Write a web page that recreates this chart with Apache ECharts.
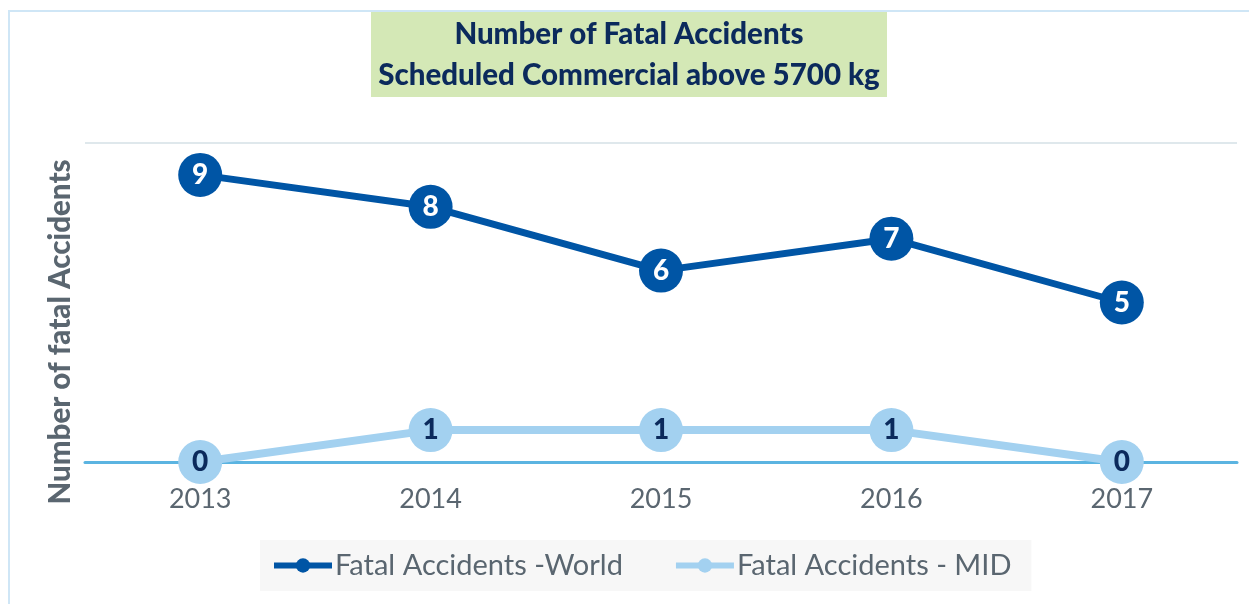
<!DOCTYPE html>
<html>
<head>
<meta charset="utf-8">
<script src="https://cdn.jsdelivr.net/npm/echarts@6/dist/echarts.min.js"></script>
<style>
  html, body { margin: 0; padding: 0; background: #fff; }
  #main { width: 1249px; height: 604px; }
</style>
</head>
<body>
<div id="main"></div>
<script>
// data
const years = ['2013', '2014', '2015', '2016', '2017'];
const world_values = [9, 8, 6, 7, 5];
const mid_values = [0, 1, 1, 1, 0];
const series_names = ['Fatal Accidents -World', 'Fatal Accidents - MID'];

const world_color = '#0055a5';
const mid_color = '#a3d1f0';
const grey_text = '#5a6670';

var chartDom = document.getElementById('main');
var myChart = echarts.init(chartDom);

var option = {
    animation: false,
    textStyle: { fontFamily: 'Lato' },
    graphic: [
        {
            // outer frame
            type: 'rect',
            shape: { x: 9, y: 11, width: 1300, height: 700 },
            style: { fill: 'none', stroke: '#cfe6f6', lineWidth: 2 },
            silent: true
        },
        {
            type: 'rect',
            shape: { x: 371, y: 12, width: 516, height: 85 },
            style: { fill: '#d4e8b6' },
            z: 1
        },
        {
            type: 'text',
            x: 629,
            y: 55,
            z: 2,
            style: {
                text: 'Number of Fatal Accidents\nScheduled Commercial above 5700 kg',
                textAlign: 'center',
                textVerticalAlign: 'middle',
                fontFamily: 'Lato',
                fontWeight: 900,
                fontSize: 29.5,
                lineHeight: 41,
                fill: '#0b2a5c'
            }
        },
        {
            type: 'text',
            x: 60,
            y: 332,
            rotation: Math.PI / 2,
            style: {
                text: 'Number of fatal Accidents',
                textAlign: 'center',
                textVerticalAlign: 'middle',
                fontFamily: 'Lato',
                fontWeight: 900,
                fontSize: 29.5,
                fill: grey_text
            }
        }
    ],
    legend: {
        data: series_names,
        left: 260,
        top: 540,
        width: 770,
        height: 52,
        backgroundColor: '#f7f7f7',
        padding: [11, 20, 11, 11],
        itemWidth: 58,
        itemHeight: 18,
        itemGap: 50,
        itemStyle: { borderWidth: 0 },
        lineStyle: { width: 6 },
        textStyle: { fontFamily: 'Lato', fontSize: 29, color: grey_text, padding: [0, 0, 0, -2] }
    },
    grid: { left: 85, right: 12, top: 143, bottom: 142 },
    xAxis: {
        type: 'category',
        data: years,
        boundaryGap: true,
        axisLine: { lineStyle: { color: '#5bb4e1', width: 3 } },
        axisTick: { show: false },
        axisLabel: { fontFamily: 'Lato', fontSize: 27, color: grey_text, margin: 24 },
        z: 1
    },
    yAxis: {
        type: 'value',
        min: 0,
        max: 10,
        interval: 10,
        axisLabel: { show: false },
        axisLine: { show: false },
        axisTick: { show: false },
        splitLine: { lineStyle: { color: '#dfe8ec', width: 2 } }
    },
    series: [
        {
            name: series_names[0],
            type: 'line',
            data: world_values,
            symbol: 'circle',
            symbolSize: 44,
            color: world_color,
            lineStyle: { width: 7, color: world_color },
            itemStyle: { color: world_color },
            label: {
                show: true,
                position: 'inside',
                fontFamily: 'Lato',
                fontWeight: 900,
                fontSize: 28,
                color: '#ffffff'
            },
            z: 3
        },
        {
            name: series_names[1],
            type: 'line',
            data: mid_values,
            symbol: 'circle',
            symbolSize: 44,
            color: mid_color,
            lineStyle: { width: 8, color: mid_color },
            itemStyle: { color: mid_color },
            label: {
                show: true,
                position: 'inside',
                fontFamily: 'Lato',
                fontWeight: 900,
                fontSize: 28,
                color: '#0b2a5c'
            },
            z: 4
        }
    ]
};

option && myChart.setOption(option);
</script>
</body>
</html>
